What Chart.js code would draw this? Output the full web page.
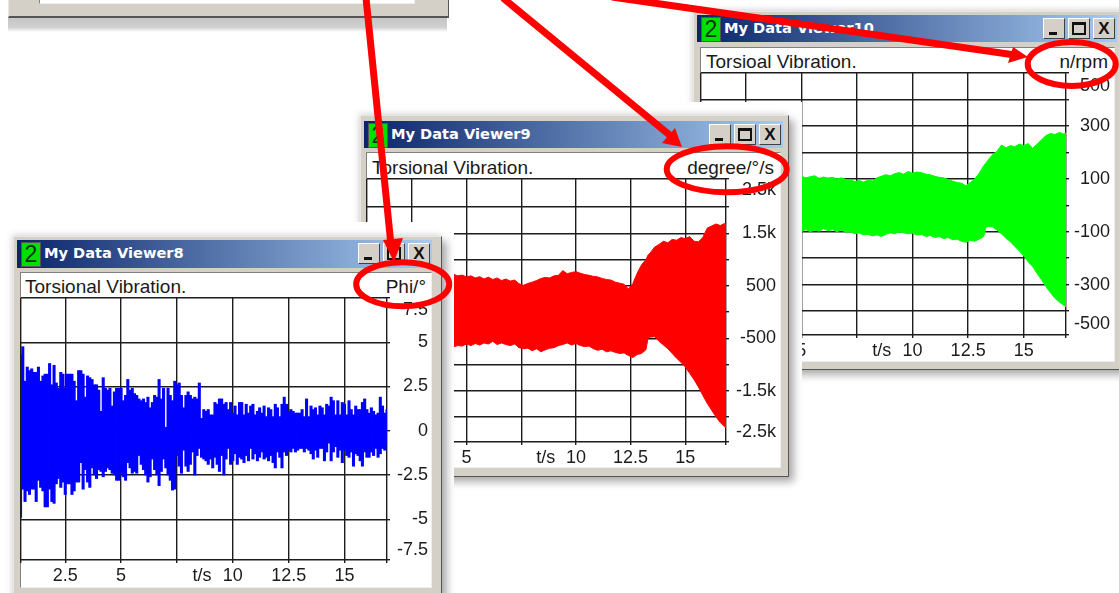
<!DOCTYPE html>
<html>
<head>
<meta charset="utf-8">
<title>Torsional Vibration</title>
<script src="https://cdn.jsdelivr.net/npm/chart.js@4"></script>
<style>
	html, body { margin: 0; width: 1119px; height: 593px; overflow: hidden; background: #fff; }
	#page { position: absolute; left: 0; top: 0; width: 1119px; height: 593px; overflow: hidden; font-family: "Liberation Sans", sans-serif; filter: blur(0.45px); }
	.cut { position: absolute; background: #fff; }
	.win { position: absolute; background: #d4d0c8; border: 1px solid #e8e6e0; border-right-color: #555; border-bottom-color: #555; box-shadow: 5px 5px 8px rgba(0,0,0,.32), -2px -2px 6px rgba(0,0,0,.12); }
	.bar { position: absolute; background: linear-gradient(90deg, #0a246a, #a6caf0); }
	.badge { position: absolute; left: 4px; top: 2px; width: 18px; height: 23px; background: #00e000; border: 1px solid #555; color: #031; font-size: 23px; line-height: 23px; text-align: center; }
	.name { position: absolute; left: 27px; top: 4px; color: #fff; font: bold 14.6px "DejaVu Sans", sans-serif; white-space: nowrap; }
	.btn { position: absolute; top: 3px; width: 20px; height: 19px; background: #d4d0c8; border: 1px solid; border-color: #fff #404040 #404040 #fff; color: #111; }
	.btn.min { right: 52px; }
	.btn.max { right: 27px; }
	.btn.cls { right: 2px; }
	.btn.min i { position: absolute; left: 5px; bottom: 3px; width: 8px; height: 3px; background: #111; }
	.btn.max i { position: absolute; left: 3px; top: 3px; border: 2px solid #111; border-top-width: 3px; width: 10px; height: 8px; }
	.btn.cls i { position: absolute; left: 0; top: 0; width: 20px; font: bold 17px/19px "Liberation Sans", sans-serif; text-align: center; font-style: normal; }
	.body { position: absolute; background: #fff; border: 1px solid #808080; border-right-color: #eee; border-bottom-color: #eee; box-sizing: border-box; }
	.cap, .unit { position: absolute; font-size: 19px; line-height: 20px; color: #1a1a1a; white-space: nowrap; }
	.band { position: absolute; background: linear-gradient(#c4c4c4, #cfcfcf 70%, #fff); }
	canvas { position: absolute; }
	svg { position: absolute; left: 0; top: 0; }
</style>
</head>
<body>
<div id="page"></div>
<script>
"use strict";

// Times in seconds

const blueTimes = [
	0.5,0.6,0.7,0.8,0.9,
	1.0,1.1,1.2,1.3,1.4,1.5,1.6,1.7,1.8,1.9,
	2.0,2.1,2.2,2.3,2.4,2.5,2.6,2.7,2.8,2.9,
	3.0,3.1,3.2,3.3,3.4,3.5,3.6,3.7,3.8,3.9,
	4.0,4.1,4.2,4.3,4.4,4.5,4.6,4.7,4.8,4.9,
	5.0,5.1,5.2,5.3,5.4,5.5,5.6,5.7,5.8,5.9,
	6.0,6.1,6.2,6.3,6.4,6.5,6.6,6.7,6.8,6.9,
	7.0,7.1,7.2,7.3,7.4,7.5,7.6,7.7,7.8,7.9,
	8.0,8.1,8.2,8.3,8.4,8.5,8.6,8.7,8.8,8.9,
	9.0,9.1,9.2,9.3,9.4,9.5,9.6,9.7,9.8,9.9,
	10.0,10.1,10.2,10.3,10.4,10.5,10.6,10.7,10.8,10.9,
	11.0,11.1,11.2,11.3,11.4,11.5,11.6,11.7,11.8,11.9,
	12.0,12.1,12.2,12.3,12.4,12.5,12.6,12.7,12.8,12.9,
	13.0,13.1,13.2,13.3,13.4,13.5,13.6,13.7,13.8,13.9,
	14.0,14.1,14.2,14.3,14.4,14.5,14.6,14.7,14.8,14.9,
	15.0,15.1,15.2,15.3,15.4,15.5,15.6,15.7,15.8,15.9,
	16.0,16.1,16.2,16.3,16.4,16.5,16.6,16.7,16.8,16.9
]
const blueHigh = [
	4.3,4.75,2.8,3.6,3.4,
	3.5,3.3,3.3,3.6,2.8,3.1,3.2,3.2,3.8,2.6,
	3.7,2.7,2.4,3.3,3.2,2.4,3.2,3.2,3.2,2.8,
	1.7,3.4,3.4,3.2,1.9,3.1,3.0,2.9,2.6,2.6,
	2.3,1.1,3.0,2.4,2.3,2.4,1.4,2.2,2.4,2.4,
	2.4,1.7,2.0,2.9,2.3,2.4,2.1,2.0,1.8,1.7,
	1.8,1.6,1.9,1.3,1.6,2.0,1.9,2.9,1.8,2.4,
	0.2,2.4,2.0,1.7,2.8,2.6,2.7,2.0,1.3,2.0,
	2.2,2.0,1.8,1.9,1.8,2.7,0.7,1.2,1.1,1.2,
	0.9,0.9,1.6,1.5,1.8,1.8,1.5,1.6,1.2,1.6,
	1.0,1.4,0.9,1.6,1.6,0.9,1.5,1.0,1.4,1.5,
	0.9,1.1,1.3,1.0,1.4,0.8,1.3,1.2,0.8,1.5,
	1.3,0.8,1.5,1.9,1.5,1.1,1.2,1.1,1.0,1.0,
	1.0,1.2,0.8,1.8,0.8,1.4,1.2,1.3,0.9,1.4,
	1.3,0.9,1.5,1.4,1.9,1.7,0.9,1.7,0.9,1.6,
	1.5,0.9,1.7,1.2,0.9,1.4,1.2,1.2,1.6,1.8,
	1.2,1.0,1.3,1.1,0.9,1.0,1.9,1.4,1.0,1.2
]
const blueLow = [
	-4.9,-3.3,-4.0,-3.4,-3.6,
	-3.3,-3.3,-4.0,-2.8,-3.2,-3.4,-4.3,-4.3,-3.3,-4.0,
	-4.1,-3.0,-2.7,-3.2,-2.9,-3.6,-3.0,-3.0,-3.6,-3.4,
	-2.9,-2.9,-1.8,-3.3,-2.2,-2.9,-3.2,-2.1,-2.5,-2.7,
	-2.2,-2.3,-2.6,-2.3,-2.1,-2.2,-2.4,-2.5,-2.8,-2.8,
	-2.4,-2.6,-2.8,-1.8,-2.1,-2.4,-2.3,-2.4,-1.4,-1.9,
	-2.2,-2.5,-2.9,-2.6,-1.6,-2.2,-2.5,-3.1,-2.3,-1.6,
	-2.1,-2.5,-2.8,-3.35,-3.3,-1.4,-2.0,-2.4,-1.1,-2.0,
	-2.3,-1.9,-1.2,-2.5,-1.4,-1.0,-1.5,-1.6,-1.7,-1.9,
	-1.6,-2.1,-1.5,-1.9,-2.3,-1.4,-2.5,-1.6,-1.0,-1.9,
	-1.7,-1.3,-1.9,-1.5,-1.6,-1.8,-1.4,-1.7,-1.0,-1.6,
	-1.3,-1.7,-1.5,-1.2,-1.6,-1.5,-1.7,-1.4,-1.8,-2.1,
	-1.2,-1.5,-2.1,-1.2,-1.4,-1.1,-1.2,-1.0,-1.2,-1.1,
	-1.0,-1.0,-1.2,-1.0,-1.1,-1.3,-1.6,-1.1,-1.5,-1.0,
	-1.0,-1.7,-1.2,-0.7,-1.7,-1.2,-0.9,-1.5,-1.1,-1.8,
	-1.1,-1.4,-1.5,-1.2,-2.0,-1.3,-1.4,-1.7,-2.0,-1.2,
	-1.5,-1.5,-1.2,-1.4,-1.0,-1.5,-1.3,-1.0,-1.1,-0.8
]

const redTimes = [
	0.5,1.5,2.5,3.5,4.2,
	4.4,4.6,4.8,5.0,5.2,5.4,5.6,5.8,6.0,6.2,6.4,6.6,6.8,7.0,7.2,7.4,7.6,7.8,8.0,8.2,8.4,8.6,8.8,
	9.0,9.2,9.4,9.6,9.8,10.0,10.2,10.4,10.6,10.8,11.0,11.2,11.4,11.6,11.8,12.0,12.2,12.4,12.6,12.8,13.0,13.2,
	13.3,13.4,13.6,13.8,14.0,14.2,14.4,14.6,14.8,15.0,15.2,15.4,15.6,15.8,16.0,16.2,16.4,16.6,16.8,16.9
]
const redHigh = [
	800,780,750,730,720,
	720,690,705,670,690,650,675,630,665,620,650,600,630,590,610,540,510,545,570,600,640,660,650,
	690,700,790,730,755,770,740,715,700,680,670,640,620,610,570,550,530,440,540,740,900,1000,
	1090,1130,1240,1290,1350,1320,1385,1370,1420,1400,1440,1350,1340,1420,1600,1640,1680,1650,1690,1660
]
const redLow = [
	-700,-690,-680,-670,-660,
	-665,-640,-650,-610,-640,-600,-630,-590,-610,-560,-620,-590,-620,-640,-610,-680,-700,-690,-740,-700,-760,-720,-690,
	-680,-640,-620,-590,-630,-600,-640,-660,-650,-700,-730,-710,-760,-740,-770,-790,-780,-830,-870,-810,-790,-720,
	-490,-480,-470,-560,-630,-700,-790,-880,-960,-1050,-1170,-1290,-1430,-1590,-1740,-1870,-2000,-2110,-2190,-2230
]

const greenTimes = [
	0.5,1.5,2.5,3.5,4.2,
	4.4,4.6,4.8,5.0,5.2,5.4,5.6,5.8,6.0,6.2,6.4,6.6,6.8,7.0,7.2,7.4,7.6,7.8,8.0,8.2,8.4,8.6,8.8,
	9.0,9.2,9.4,9.6,9.8,10.0,10.2,10.4,10.6,10.8,11.0,11.2,11.4,11.6,11.8,12.0,12.2,12.4,12.6,12.8,13.0,13.2,
	13.3,13.4,13.6,13.8,14.0,14.2,14.4,14.6,14.8,15.0,15.2,15.4,15.6,15.8,16.0,16.2,16.4,16.6,16.8,16.9
]
const greenHigh = [
	130,125,120,115,112,
	108,113,106,110,104,108,112,102,107,103,106,100,104,98,96,90,94,88,96,92,104,110,116,
	112,120,124,118,128,122,126,124,118,116,110,106,104,98,92,86,84,74,86,100,122,150,
	160,172,192,205,228,218,226,222,232,226,234,216,232,248,264,272,268,276,270,274
]
const greenLow = [
	-110,-108,-106,-104,-102,
	-98,-104,-96,-100,-92,-100,-94,-98,-88,-96,-92,-100,-94,-102,-100,-108,-104,-112,-110,-116,-112,-118,-110,
	-104,-108,-100,-104,-108,-106,-112,-110,-118,-114,-122,-118,-126,-122,-130,-128,-136,-140,-132,-136,-128,-118,
	-82,-80,-82,-94,-108,-124,-138,-156,-172,-192,-214,-232,-258,-282,-308,-330,-352,-366,-378,-385
]

// Tick positions, the labels sit on some of them. Grid lines only where listed.
const timeTicks = [2.5, 5, 7.5, 8.62, 10, 12.5, 15]
const timeLabels = ['2.5', '5', '', 't/s', '10', '12.5', '15']
const timeGrid = [2.5, 5, 7.5, 10, 12.5, 15]

const blueTicks = [6.84, 5, 2.5, 0, -2.5, -5, -6.72]
const blueLabels = ['7.5', '5', '2.5', '0', '-2.5', '-5', '-7.5']
const blueGrid = [5, 2.5, 0, -2.5, -5]

const redTicks = [2328, 2000, 1500, 1000, 500, 0, -500, -1000, -1500, -2000, -2285]
const redLabels = ['2.5k', '', '1.5k', '', '500', '', '-500', '', '-1.5k', '', '-2.5k']
const redGrid = [2000, 1500, 1000, 500, 0, -500, -1000, -1500, -2000]

const greenTicks = [452, 400, 300, 200, 100, 0, -100, -200, -300, -400, -450]
const greenLabels = ['500', '', '300', '', '100', '', '-100', '', '-300', '', '-500']
const greenGrid = [400, 300, 200, 100, 0, -100, -200, -300, -400]

const page = document.getElementById('page')
const ink = '#1c1c1c'

function box(cls, l, t, r, b, parent) {
	const el = document.createElement('div')
	el.className = cls
	el.style.left = l + 'px'
	el.style.top = t + 'px'
	el.style.width = (r - l) + 'px'
	el.style.height = (b - t) + 'px'
	;(parent || page).appendChild(el)
	return el
}

// One viewer window, everything in page pixels
function addViewer(v) {

	box('cut', v.cut[0], v.cut[1], v.cut[2], v.cut[3])

	const win = box('win', v.frame[0], v.frame[1], v.frame[2], v.frame[3])
	const ox = v.frame[0] + 1
	const oy = v.frame[1] + 1

	const bar = box('bar', v.title[0] - ox, v.title[1] - oy, v.title[2] - ox, v.title[3] - oy, win)
	bar.innerHTML = `<div class="badge">2</div><div class="name">${v.name}</div>
		<div class="btn min"><i></i></div><div class="btn max"><i></i></div><div class="btn cls"><i>X</i></div>`

	const inner = box('body', v.body[0] - ox, v.body[1] - oy, v.body[2] - ox, v.body[3] - oy, win)

	const cap = document.createElement('div')
	cap.className = 'cap'
	cap.textContent = v.caption
	cap.style.left = (v.capX - v.body[0] - 1) + 'px'
	cap.style.top = (v.capY - v.body[1] - 11) + 'px'
	inner.appendChild(cap)

	const unit = document.createElement('div')
	unit.className = 'unit'
	unit.textContent = v.unit
	unit.style.right = (v.body[2] - v.unitR - 1) + 'px'
	unit.style.top = (v.capY - v.body[1] - 11) + 'px'
	inner.appendChild(unit)

	const canvas = document.createElement('canvas')
	const l = v.plot[0] - 1
	const t = v.plot[1] - 1
	canvas.style.left = (l - ox) + 'px'
	canvas.style.top = (t - oy) + 'px'
	canvas.width = v.unitR + 2 - l
	canvas.height = v.body[3] - 2 - t
	canvas.style.width = canvas.width + 'px'
	canvas.style.height = canvas.height + 'px'
	win.appendChild(canvas)

	const gridColor = (list, bounds) => (ctx) => {
		const val = ctx.tick.value
		return (list.includes(val) || bounds.includes(val)) ? ink : 'rgba(0,0,0,0)'
	}

	new Chart(canvas.getContext('2d'), {
		type: 'line',
		data: { datasets: v.datasets },
		options: {
			responsive: false,
			animation: false,
			layout: { padding: { left: 1, top: 1, right: 0, bottom: 0 } },
			plugins: { legend: { display: false }, tooltip: { enabled: false } },
			scales: {
				x: {
					type: 'linear',
					offset: false,
					min: v.xRange[0],
					max: v.xRange[1],
					afterBuildTicks: (s) => { s.ticks = [v.xRange[0]].concat(timeTicks, v.xRange[1]).map((value) => ({ value })) },
					afterFit: (s) => {
						s.height = v.body[3] - 2 - v.plot[3]
						s.paddingLeft = 0
						s.paddingRight = 0
					},
					grid: { offset: false, color: gridColor(timeGrid, v.xRange), tickColor: gridColor(timeGrid, v.xRange), lineWidth: 1.4, tickLength: 3 },
					border: { display: false },
					ticks: {
						autoSkip: false, maxRotation: 0, padding: 2, color: ink,
						font: { family: 'Liberation Sans', size: 18 },
						callback: (val) => { const i = timeTicks.indexOf(val); return i < 0 ? '' : timeLabels[i] }
					}
				},
				y: {
					type: 'linear',
					position: 'right',
					min: v.yRange[0],
					max: v.yRange[1],
					afterBuildTicks: (s) => { s.ticks = [v.yRange[1]].concat(v.yTicks, v.yRange[0]).map((value) => ({ value })).sort((a, b) => a.value - b.value) },
					afterFit: (s) => {
						s.width = v.unitR + 2 - v.plot[2]
						s.paddingTop = 0
						s.paddingBottom = 0
					},
					grid: { color: gridColor(v.yGrid, v.yRange), tickColor: gridColor(v.yGrid, v.yRange), lineWidth: 1.4, tickLength: 3 },
					border: { display: false },
					ticks: {
						autoSkip: false, padding: 2, color: ink, crossAlign: 'far',
						font: { family: 'Liberation Sans', size: 18 },
						callback: (val) => { const i = v.yTicks.indexOf(val); return i < 0 ? '' : v.yLabels[i] }
					}
				}
			}
		}
	})
}

function pairs(times, values) {
	return times.map((t, i) => ({ x: t, y: values[i] }))
}

// Envelope of a dense signal, upper line filled down to the lower one
function envelope(times, high, low, color) {
	return [
		{ data: pairs(times, high), borderColor: color, backgroundColor: color, borderWidth: 1, pointRadius: 0, tension: 0, fill: '+1' },
		{ data: pairs(times, low), borderColor: color, backgroundColor: color, borderWidth: 1, pointRadius: 0, tension: 0, fill: false }
	]
}

// The window at the very top, only its bottom edge is in the shot
box('band', 8, 16, 447, 32)
const oldWin = box('win', 8, -30, 447, 15)
oldWin.style.boxShadow = 'none'
oldWin.style.borderBottom = '2px solid #555'
box('body', 30, 0, 406, 33, oldWin)

addViewer({
	cut: [690, 0, 1119, 593],
	frame: [693, 11, 1126, 368],
	title: [697, 15, 1117, 42],
	body: [700, 47, 1115, 362],
	plot: [701, 73, 1066, 335],
	name: 'My Data Viewer10', caption: 'Torsioal Vibration.', unit: 'n/rpm',
	capX: 706, capY: 62, unitR: 1108,
	xRange: [0.49, 16.9], yRange: [-491, 501],
	yTicks: greenTicks, yLabels: greenLabels, yGrid: greenGrid,
	datasets: envelope(greenTimes, greenHigh, greenLow, '#00ff00')
})

addViewer({
	cut: [350, 102, 802, 490],
	frame: [360, 115, 787, 475],
	title: [364, 121, 783, 148],
	body: [366, 152, 781, 468],
	plot: [367, 179, 726, 442],
	name: 'My Data Viewer9', caption: 'Torsional Vibration.', unit: 'degree/°/s',
	capX: 372, capY: 168, unitR: 774,
	xRange: [0.45, 16.86], yRange: [-2480, 2538],
	yTicks: redTicks, yLabels: redLabels, yGrid: redGrid,
	datasets: envelope(redTimes, redHigh, redLow, '#ff0000')
})

addViewer({
	cut: [0, 222, 454, 600],
	frame: [13, 236, 440, 606],
	title: [17, 240, 432, 268],
	body: [20, 272, 432, 588],
	plot: [21, 298, 387, 560],
	name: 'My Data Viewer8', caption: 'Torsional Vibration.', unit: 'Phi/°',
	capX: 25, capY: 287, unitR: 426,
	xRange: [0.52, 16.9], yRange: [-7.3, 7.5],
	yTicks: blueTicks, yLabels: blueLabels, yGrid: blueGrid,
	datasets: [{ type: 'bar', data: blueTimes.map((t, i) => ({ x: t, y: [blueLow[i], blueHigh[i]] })), backgroundColor: '#0000ff', barThickness: 2.4, grouped: false }]
})

// Red call-outs drawn over all the windows
page.insertAdjacentHTML('beforeend', `
<svg width="1119" height="593" xmlns="http://www.w3.org/2000/svg" fill="#f00" stroke="none">
	<line x1="366" y1="-2" x2="391" y2="245" stroke="#f00" stroke-width="7"/>
	<polygon points="383,240 403,238 394,262"/>
	<line x1="503" y1="-2" x2="672" y2="137" stroke="#f00" stroke-width="7"/>
	<polygon points="675,128 662,143 682,147"/>
	<line x1="612" y1="-3" x2="1015" y2="55" stroke="#f00" stroke-width="7"/>
	<polygon points="1013,47 1008,63 1028,57"/>
	<ellipse cx="402.7" cy="284.3" rx="46.5" ry="22" fill="none" stroke="#f00" stroke-width="6"/>
	<ellipse cx="726.7" cy="169.3" rx="60" ry="23" fill="none" stroke="#f00" stroke-width="6"/>
	<ellipse cx="1071.7" cy="64" rx="44" ry="22" fill="none" stroke="#f00" stroke-width="6"/>
</svg>`)
</script>
</body>
</html>
